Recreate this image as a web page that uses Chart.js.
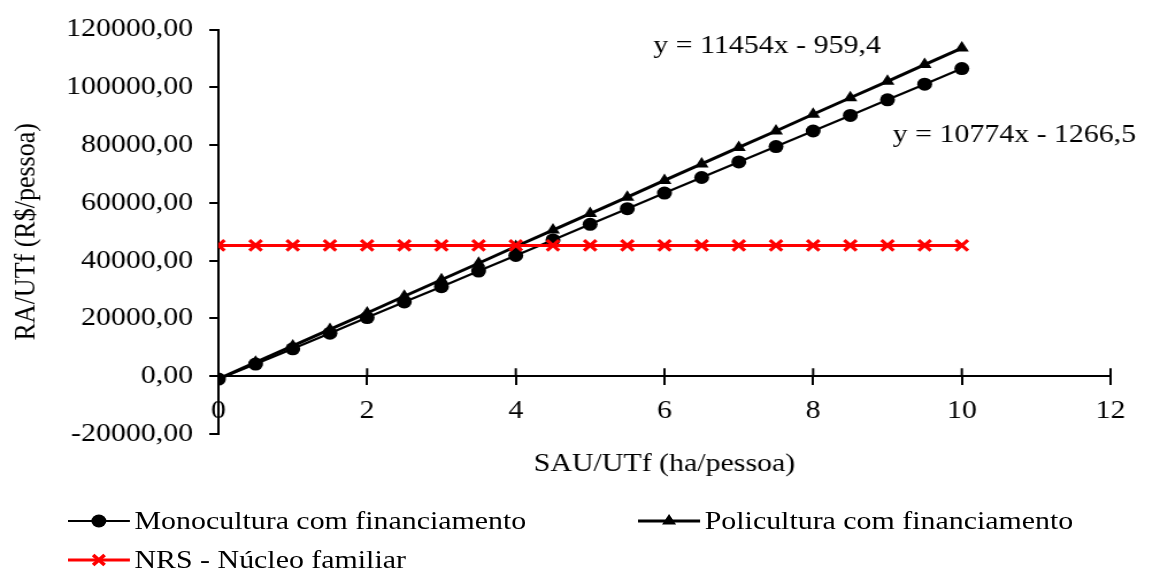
<!DOCTYPE html>
<html lang="pt">
<head>
<meta charset="utf-8">
<title>RA/UTf x SAU/UTf</title>
<script src="https://cdn.jsdelivr.net/npm/chart.js@4/dist/chart.umd.min.js"></script>
<style>
  html, body { margin: 0; padding: 0; background: #fff; overflow: hidden; }
  #wrap {
    position: absolute; left: 0; top: 0;
    width: 1003px; height: 572px;
    transform: scaleX(1.1496); transform-origin: 0 0;
    font-family: "Liberation Serif", "Times New Roman", serif;
  }
  #chart { position: absolute; left: 0; top: 0; }
  .leg { position: absolute; height: 30px; line-height: 30px; font-size: 26px; color: #000; white-space: nowrap; }
  .leg svg { position: absolute; left: 0; top: 5px; }
  .leg span { position: absolute; left: 58px; top: 0; }
</style>
</head>
<body>
<div id="wrap">
  <canvas id="chart" width="1003" height="572"></canvas>
  <div class="leg" style="left:59px; top:506px;">
    <svg width="56" height="20" viewBox="0 0 56 20">
      <line x1="0" y1="10" x2="54" y2="10" stroke="#000" stroke-width="2.2"/>
      <circle cx="27" cy="10" r="6.5" fill="#000"/>
    </svg>
    <span>Monocultura com financiamento</span>
  </div>
  <div class="leg" style="left:555px; top:506px;">
    <svg width="56" height="20" viewBox="0 0 56 20">
      <line x1="0" y1="10" x2="54" y2="10" stroke="#000" stroke-width="3"/>
      <polygon points="27,3 33.1,13.5 20.9,13.5" fill="#000"/>
    </svg>
    <span>Policultura com financiamento</span>
  </div>
  <div class="leg" style="left:59px; top:545px;">
    <svg width="56" height="20" viewBox="0 0 56 20">
      <line x1="0" y1="10" x2="54" y2="10" stroke="#ff0000" stroke-width="3"/>
      <line x1="22" y1="5" x2="32" y2="15" stroke="#ff0000" stroke-width="3.2"/>
      <line x1="32" y1="5" x2="22" y2="15" stroke="#ff0000" stroke-width="3.2"/>
    </svg>
    <span>NRS - Núcleo familiar</span>
  </div>
</div>
<script>
// SAU/UTf (ha/pessoa)
const sauUtf = [0, 0.5, 1, 1.5, 2, 2.5, 3, 3.5, 4, 4.5, 5, 5.5, 6, 6.5, 7, 7.5, 8, 8.5, 9, 9.5, 10];

// RA/UTf (R$/pessoa) for each system
const monocultura = [-1000, 4200, 9500, 14900, 20300, 25700, 31000, 36400, 41800, 47200, 52600,
                     58000, 63400, 68800, 74200, 79500, 84900, 90300, 95700, 101100, 106500];
const policultura = [-900, 4800, 10500, 16200, 21900, 27700, 33400, 39100, 44900, 50600, 56300,
                     62000, 67800, 73500, 79200, 84900, 90700, 96400, 102100, 107900, 113600];
const nrsNucleo = [45300, 45300, 45300, 45300, 45300, 45300, 45300, 45300, 45300, 45300, 45300,
                   45300, 45300, 45300, 45300, 45300, 45300, 45300, 45300, 45300, 45300];

const seriesNames = ['Monocultura com financiamento', 'Policultura com financiamento', 'NRS - Núcleo familiar'];

// Trend line equations shown on the plot
const equationTexts = ['y = 11454x - 959,4', 'y = 10774x - 1266,5'];

// Axis ranges
const xMin = 0, xMax = 12, xStep = 2;
const yMin = -20000, yMax = 120000, yStep = 20000;

const FONT = { family: '"Liberation Serif", "Times New Roman", serif', size: 26 };

function pts(ys) { return sauUtf.map((x, i) => ({ x: x, y: ys[i] })); }

// where each equation text sits, in data units (left edge, vertical middle)
const equationAnchors = [{ x: 5.85, y: 114300 }, { x: 9.07, y: 83400 }];

const equationPlugin = {
  id: 'equations',
  afterDatasetsDraw(chart) {
    const { ctx, scales: { x, y } } = chart;
    ctx.save();
    ctx.fillStyle = '#000';
    ctx.font = FONT.size + 'px ' + FONT.family;
    ctx.textAlign = 'left';
    ctx.textBaseline = 'middle';
    equationTexts.forEach((t, i) => {
      ctx.fillText(t, x.getPixelForValue(equationAnchors[i].x), y.getPixelForValue(equationAnchors[i].y));
    });
    ctx.restore();
  }
};

// the x axis ticks cross the axis line: draw the upper half
const crossTicks = {
  id: 'crossTicks',
  beforeDatasetsDraw(chart) {
    const { ctx, scales: { x, y } } = chart;
    const y0 = y.getPixelForValue(0);
    ctx.save();
    ctx.strokeStyle = '#000';
    ctx.lineWidth = 2;
    ctx.beginPath();
    x.ticks.forEach(t => {
      const px = x.getPixelForValue(t.value);
      ctx.moveTo(px, y0 - 8);
      ctx.lineTo(px, y0);
    });
    ctx.stroke();
    ctx.restore();
  }
};

new Chart(document.getElementById('chart'), {
  type: 'scatter',
  data: {
    datasets: [
      {
        label: seriesNames[0], data: pts(monocultura), showLine: true,
        borderColor: '#000', backgroundColor: '#000', borderWidth: 2.2,
        pointStyle: 'circle', pointRadius: 6.5, pointBorderWidth: 0, order: 3
      },
      {
        label: seriesNames[1], data: pts(policultura), showLine: true,
        borderColor: '#000', backgroundColor: '#000', borderWidth: 3,
        pointStyle: 'triangle', pointRadius: 7, pointBorderWidth: 0, order: 2
      },
      {
        label: seriesNames[2], data: pts(nrsNucleo), showLine: true,
        borderColor: '#ff0000', backgroundColor: '#ff0000', borderWidth: 3,
        pointStyle: 'crossRot', pointRadius: 7.5, pointBorderWidth: 3.2, order: 1
      }
    ]
  },
  options: {
    responsive: false,
    animation: false,
    events: [],
    layout: { padding: { top: 25, right: 37, bottom: 138, left: 0 } },
    plugins: { legend: { display: false }, tooltip: { enabled: false } },
    scales: {
      x: {
        type: 'linear', position: { y: 0 },
        min: xMin, max: xMax,
        ticks: { stepSize: xStep, color: '#000', font: FONT, padding: 11, maxRotation: 0 },
        grid: { display: true, drawOnChartArea: false, drawTicks: true, tickLength: 8, color: '#000', lineWidth: 2 },
        border: { display: true, color: '#000', width: 2 },
        title: { display: true, text: 'SAU/UTf (ha/pessoa)', color: '#000', font: FONT, padding: { top: 11, bottom: 0 } }
      },
      y: {
        type: 'linear', position: 'left',
        min: yMin, max: yMax,
        ticks: {
          stepSize: yStep, color: '#000', font: FONT, padding: 14,
          callback: v => v.toFixed(2).replace('.', ',')
        },
        grid: { display: true, drawOnChartArea: false, drawTicks: true, tickLength: 8, color: '#000', lineWidth: 2 },
        border: { display: true, color: '#000', width: 2 },
        title: { display: true, text: 'RA/UTf (R$/pessoa)', color: '#000', font: FONT, padding: { top: 8, bottom: 0 } },
        afterFit(scale) { scale.width = 190; }
      }
    }
  },
  plugins: [crossTicks, equationPlugin]
});
</script>
</body>
</html>
